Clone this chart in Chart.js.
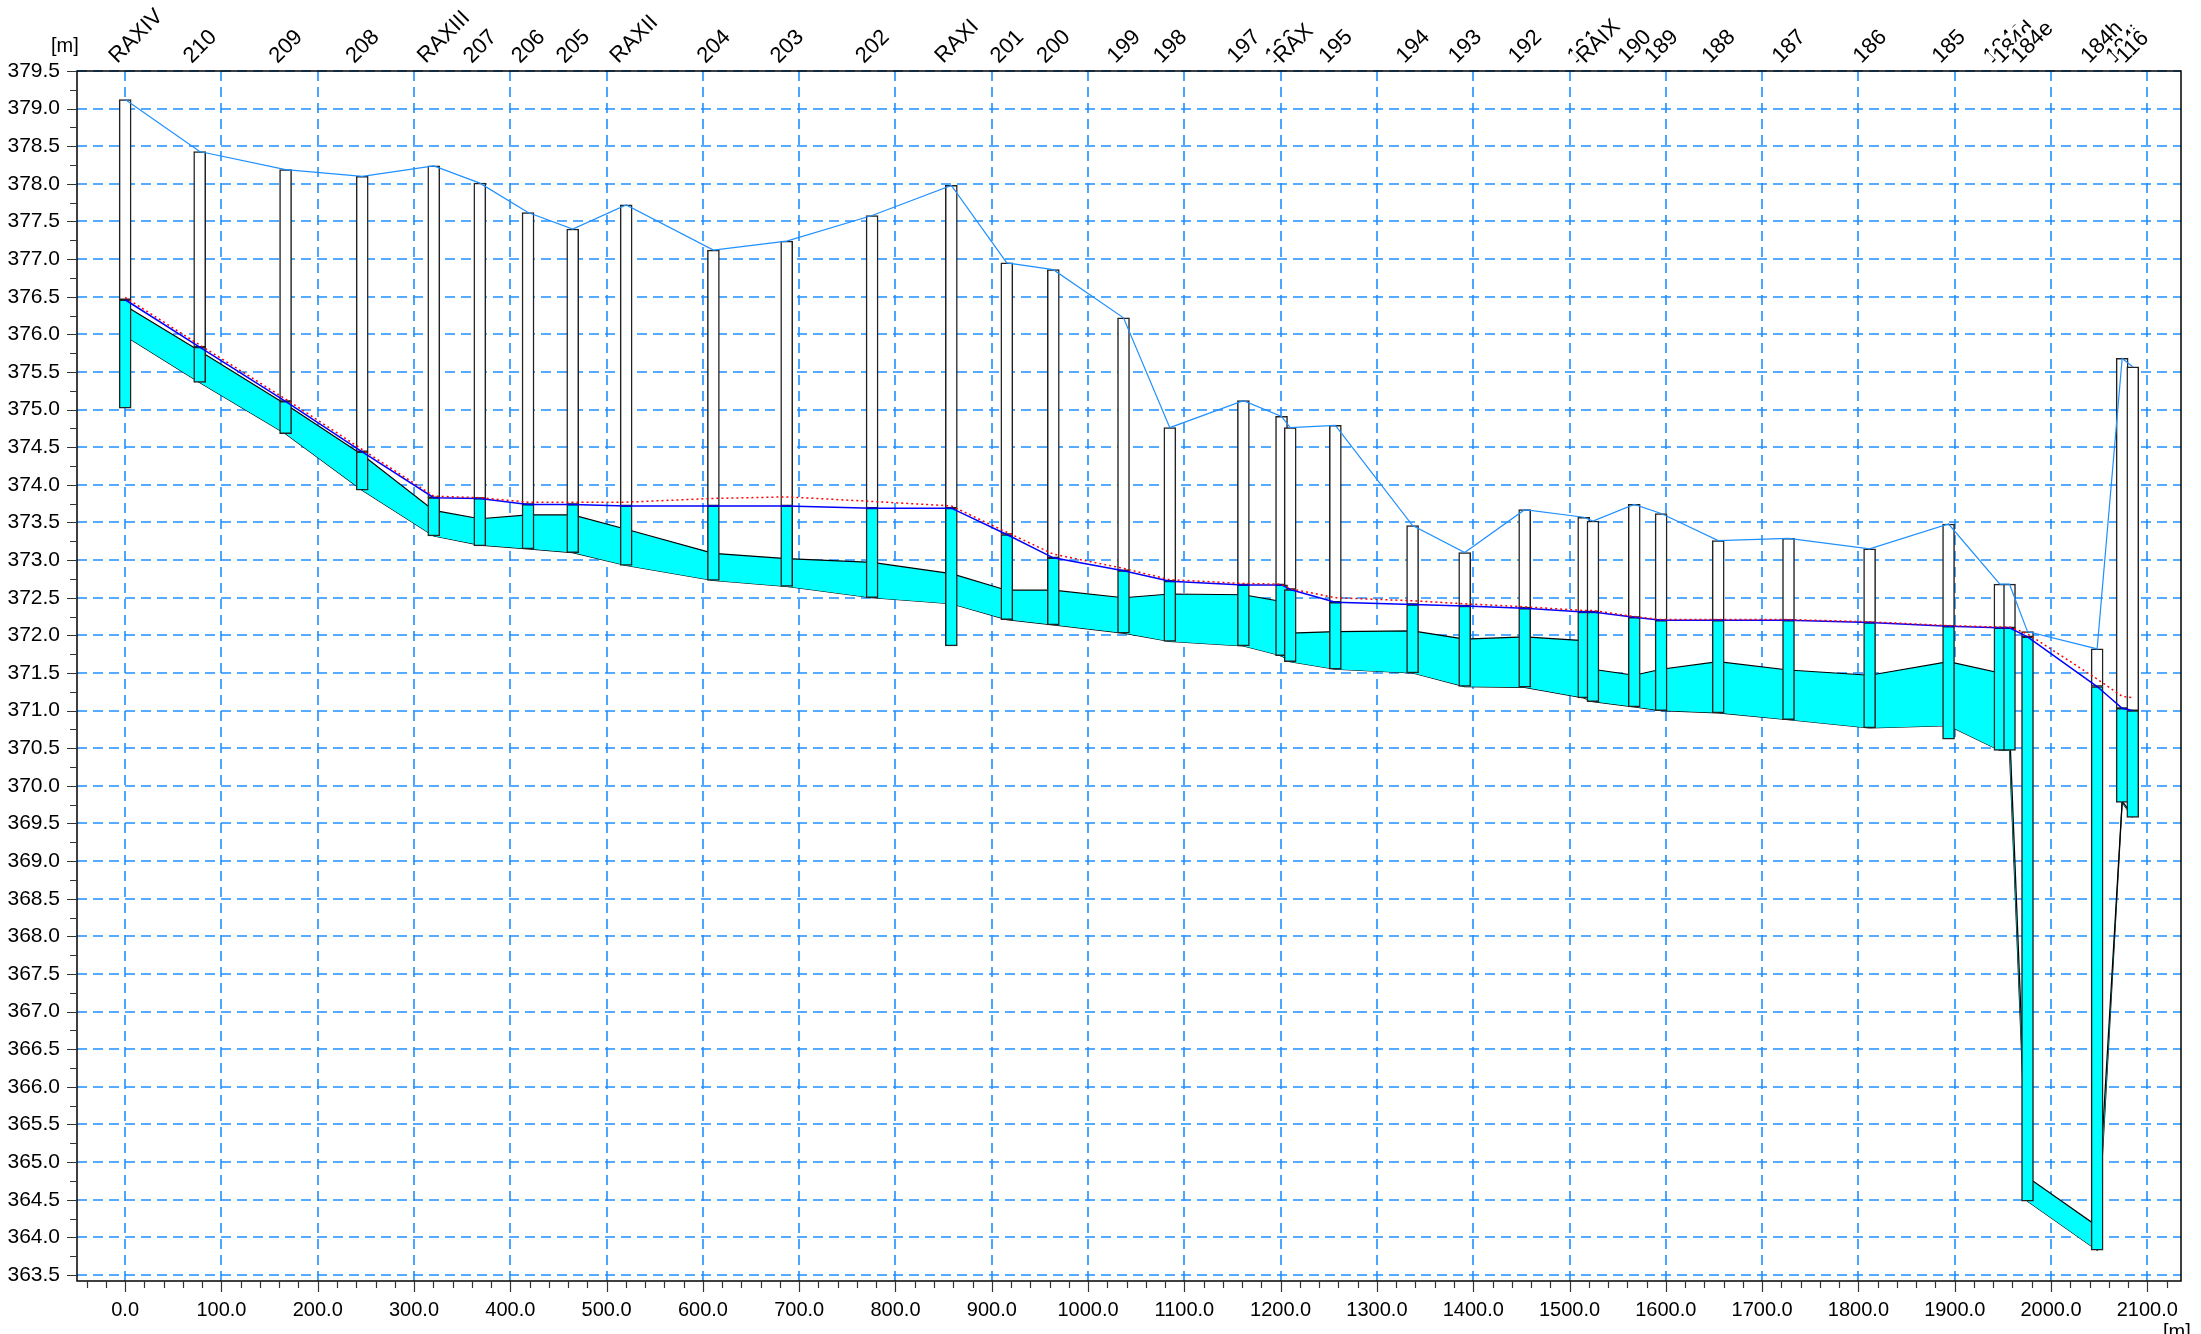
<!DOCTYPE html>
<html>
<head>
<meta charset="utf-8">
<script src="https://cdn.jsdelivr.net/npm/chart.js@4.4.1/dist/chart.umd.min.js"></script>
<style>
  body { margin: 0; background: #fff; }
</style>
</head>
<body>
<canvas id="profile" width="2201" height="1334"></canvas>
<script>
// Cross-section chainages [m] and their names along the top.
const chainage = [0, 77.4, 166.6, 246.2, 320.5, 368.3, 418.4, 464.8, 520.3, 610.9,
	687.0, 775.7, 858.0, 915.6, 963.9, 1036.8, 1084.9, 1161.3, 1200.9, 1209.9,
	1256.8, 1337.0, 1391.1, 1453.4, 1514.7, 1524.3, 1567.2, 1595.1, 1654.4, 1727.4,
	1811.6, 1893.6, 1946.9, 1956.9, 1975.6, 2047.9, 2073.9, 2084.9];
const sectionNames = ["RAXIV", "210", "209", "208", "RAXIII", "207", "206", "205", "RAXII", "204",
	"203", "202", "RAXI", "201", "200", "199", "198", "197", "196", "RAX",
	"195", "194", "193", "192", "191", "RAIX", "190", "189", "188", "187",
	"186", "185", "184c", "184d", "184e", "184h", "184i", "116"];

// Levels [m], one value per cross-section.
const bankLevel = [379.12, 378.43, 378.19, 378.10, 378.24, 378.01, 377.62, 377.40, 377.72, 377.12,
	377.24, 377.58, 377.98, 376.95, 376.86, 376.22, 374.76, 375.12, 374.91, 374.76,
	374.79, 373.46, 373.10, 373.67, 373.57, 373.52, 373.74, 373.62, 373.26, 373.29,
	373.15, 373.48, 372.68, 372.68, 372.05, 371.82, 375.68, 375.57];
const waterLevel = [376.46, 375.83, 375.11, 374.44, 373.83, 373.82, 373.74, 373.74, 373.72, 373.72,
	373.72, 373.69, 373.69, 373.34, 373.03, 372.86, 372.72, 372.67, 372.67, 372.61,
	372.44, 372.41, 372.39, 372.36, 372.31, 372.31, 372.24, 372.20, 372.20, 372.20,
	372.17, 372.12, 372.10, 372.10, 371.98, 371.32, 371.03, 371.00];
const maxWaterLevel = [376.49, 375.86, 375.14, 374.47, 373.85, 373.83, 373.77, 373.77, 373.77, 373.82,
	373.84, 373.78, 373.72, 373.37, 373.08, 372.89, 372.74, 372.69, 372.68, 372.62,
	372.50, 372.46, 372.42, 372.38, 372.33, 372.33, 372.25, 372.21, 372.21, 372.21,
	372.18, 372.13, 372.11, 372.11, 372.02, 371.42, 371.19, 371.17];
const sectionBottom = [375.02, 375.36, 374.68, 373.93, 373.32, 373.19, 373.15, 373.10, 372.93, 372.73,
	372.65, 372.50, 371.86, 372.21, 372.14, 372.03, 371.92, 371.86, 371.73, 371.65,
	371.55, 371.50, 371.32, 371.31, 371.17, 371.12, 371.05, 371.00, 370.97, 370.88,
	370.77, 370.62, 370.47, 370.47, 364.48, 363.83, 369.78, 369.58];
const bedTop = [376.38, 375.78, 375.07, 374.40, 373.66, 373.55, 373.60, 373.60, 373.41, 373.09,
	373.02, 372.97, 372.82, 372.60, 372.60, 372.50, 372.55, 372.54, 372.45, 372.03,
	372.05, 372.06, 371.95, 371.98, 371.93, 371.55, 371.47, 371.55, 371.65, 371.54,
	371.47, 371.65, 371.50, 370.80, 364.80, 364.15, 369.80, 369.60];
const bedBottom = [375.98, 375.36, 374.68, 373.93, 373.32, 373.20, 373.15, 373.10, 372.93, 372.73,
	372.65, 372.50, 372.42, 372.21, 372.14, 372.03, 371.92, 371.86, 371.73, 371.65,
	371.55, 371.50, 371.32, 371.31, 371.17, 371.12, 371.05, 371.00, 370.97, 370.88,
	370.77, 370.80, 370.47, 370.47, 364.48, 363.83, 369.78, 369.58];

// Axis ticks.
const xTicks = [0, 100, 200, 300, 400, 500, 600, 700, 800, 900, 1000,
	1100, 1200, 1300, 1400, 1500, 1600, 1700, 1800, 1900, 2000, 2100];
const yTicks = [363.5, 364.0, 364.5, 365.0, 365.5, 366.0, 366.5, 367.0, 367.5, 368.0, 368.5,
	369.0, 369.5, 370.0, 370.5, 371.0, 371.5, 372.0, 372.5, 373.0, 373.5, 374.0,
	374.5, 375.0, 375.5, 376.0, 376.5, 377.0, 377.5, 378.0, 378.5, 379.0, 379.5];

const gridBlue = "rgb(30, 144, 255)";
const fontFamily = "'Liberation Sans', Arial, sans-serif";

// Pair chainages with a level array.
function points(levels) {
	return chainage.map((c, i) => ({ x: c, y: levels[i] }));
}

function floating(low, high) {
	return chainage.map((c, i) => ({ x: c, y: [low[i], high[i]] }));
}

// Grid, tick marks, frame and the section names.
const profileFrame = {
	id: "profileFrame",
	beforeDatasetsDraw(chart) {
		const { ctx, chartArea: a, scales: { x, y } } = chart;
		ctx.save();
		ctx.strokeStyle = gridBlue;
		ctx.lineWidth = 1.6;
		ctx.setLineDash([10, 6]);
		for (const v of yTicks) {
			const py = Math.round(y.getPixelForValue(v));
			ctx.beginPath();
			ctx.moveTo(a.left, py);
			ctx.lineTo(a.right, py);
			ctx.stroke();
		}
		for (const v of xTicks) {
			const px = Math.round(x.getPixelForValue(v));
			ctx.beginPath();
			ctx.moveTo(px, a.top);
			ctx.lineTo(px, a.bottom);
			ctx.stroke();
		}
		ctx.restore();
	},
	afterDraw(chart) {
		const { ctx, chartArea: a, scales: { x, y } } = chart;
		ctx.save();
		ctx.strokeStyle = "#000";
		ctx.lineWidth = 1.5;
		ctx.setLineDash([]);
		ctx.strokeRect(a.left, a.top, a.right - a.left, a.bottom - a.top);

		// tick marks, minor every 0.25 m and 20 m
		ctx.strokeStyle = "#333";
		ctx.lineWidth = 1.2;
		ctx.beginPath();
		for (let k = 0; k * 0.25 + 363.5 <= 379.5; k++) {
			const py = Math.round(y.getPixelForValue(363.5 + k * 0.25)) + 0.5;
			ctx.moveTo(a.left, py);
			ctx.lineTo(a.left - (k % 2 ? 7 : 10), py);
		}
		for (let m = -40; m <= 2120; m += 20) {
			const px = Math.round(x.getPixelForValue(m)) + 0.5;
			ctx.moveTo(px, a.bottom);
			ctx.lineTo(px, a.bottom + (m % 100 ? 7 : 11));
		}
		ctx.stroke();

		ctx.fillStyle = "#000";
		ctx.font = "20px " + fontFamily;
		ctx.textAlign = "left";
		ctx.textBaseline = "middle";
		ctx.fillText("[m]", 51, 46);
		ctx.textBaseline = "top";
		ctx.fillText("[m]", 2163, 1322);

		// section names, rotated; later names cover earlier ones
		ctx.font = "22px " + fontFamily;
		ctx.textBaseline = "alphabetic";
		sectionNames.forEach((name, i) => {
			const px = x.getPixelForValue(chainage[i]) - 8;
			ctx.save();
			ctx.translate(px, 64);
			ctx.rotate(-Math.PI / 4);
			const w = ctx.measureText(name).width;
			ctx.fillStyle = "#fff";
			ctx.fillRect(-1, -18, w + 2, 23);
			ctx.fillStyle = "#000";
			ctx.fillText(name, 0, 0);
			ctx.restore();
		});
		ctx.restore();
	}
};

const chart = new Chart(document.getElementById("profile"), {
	type: "line",
	data: {
		datasets: [
			{
				// bed band, filled down to the next dataset
				data: points(bedTop),
				borderColor: "#000",
				borderWidth: 1.2,
				backgroundColor: "#00ffff",
				fill: "+1",
				pointRadius: 0,
				order: 6
			},
			{
				data: points(bedBottom),
				borderColor: "#000",
				borderWidth: 1.2,
				pointRadius: 0,
				fill: false,
				order: 6
			},
			{
				// section below water
				type: "bar",
				data: floating(sectionBottom, waterLevel),
				backgroundColor: "#00ffff",
				borderColor: "#222",
				borderWidth: 1.5,
				borderSkipped: false,
				barThickness: 12,
				grouped: false,
				order: 4
			},
			{
				// section above water
				type: "bar",
				data: floating(waterLevel, bankLevel),
				backgroundColor: "#fff",
				borderColor: "#222",
				borderWidth: 1.5,
				borderSkipped: false,
				barThickness: 12,
				grouped: false,
				order: 4
			},
			{
				data: points(bankLevel),
				borderColor: gridBlue,
				borderWidth: 1.2,
				pointRadius: 0,
				fill: false,
				order: 2
			},
			{
				data: points(waterLevel),
				borderColor: "#0000ff",
				borderWidth: 1.5,
				pointRadius: 0,
				fill: false,
				order: 1
			},
			{
				data: points(maxWaterLevel),
				borderColor: "#ff0000",
				borderWidth: 1.5,
				borderDash: [2, 3],
				pointRadius: 0,
				fill: false,
				order: 0
			}
		]
	},
	options: {
		responsive: false,
		animation: false,
		devicePixelRatio: 1,
		layout: { padding: { top: 71, right: 20, left: 0, bottom: 0 } },
		plugins: { legend: { display: false }, tooltip: { enabled: false } },
		scales: {
			x: {
				type: "linear",
				min: -50,
				max: 2135,
				offset: false,
				grid: { display: false, drawTicks: false },
				border: { display: false },
				afterBuildTicks: s => { s.ticks = xTicks.map(v => ({ value: v })); },
				afterFit: s => { s.height = 53; },
				ticks: {
					padding: 17,
					maxRotation: 0,
					autoSkip: false,
					color: "#000",
					font: { family: fontFamily, size: 20 },
					callback: v => v.toFixed(1)
				}
			},
			y: {
				type: "linear",
				min: 363.42,
				max: 379.5,
				grid: { display: false, drawTicks: false },
				border: { display: false },
				afterBuildTicks: s => { s.ticks = yTicks.map(v => ({ value: v })); },
				afterFit: s => { s.width = 77; },
				ticks: {
					padding: 17,
					autoSkip: false,
					color: "#000",
					font: { family: fontFamily, size: 21 },
					callback: v => v.toFixed(1)
				}
			}
		}
	},
	plugins: [profileFrame]
});
</script>
</body>
</html>
